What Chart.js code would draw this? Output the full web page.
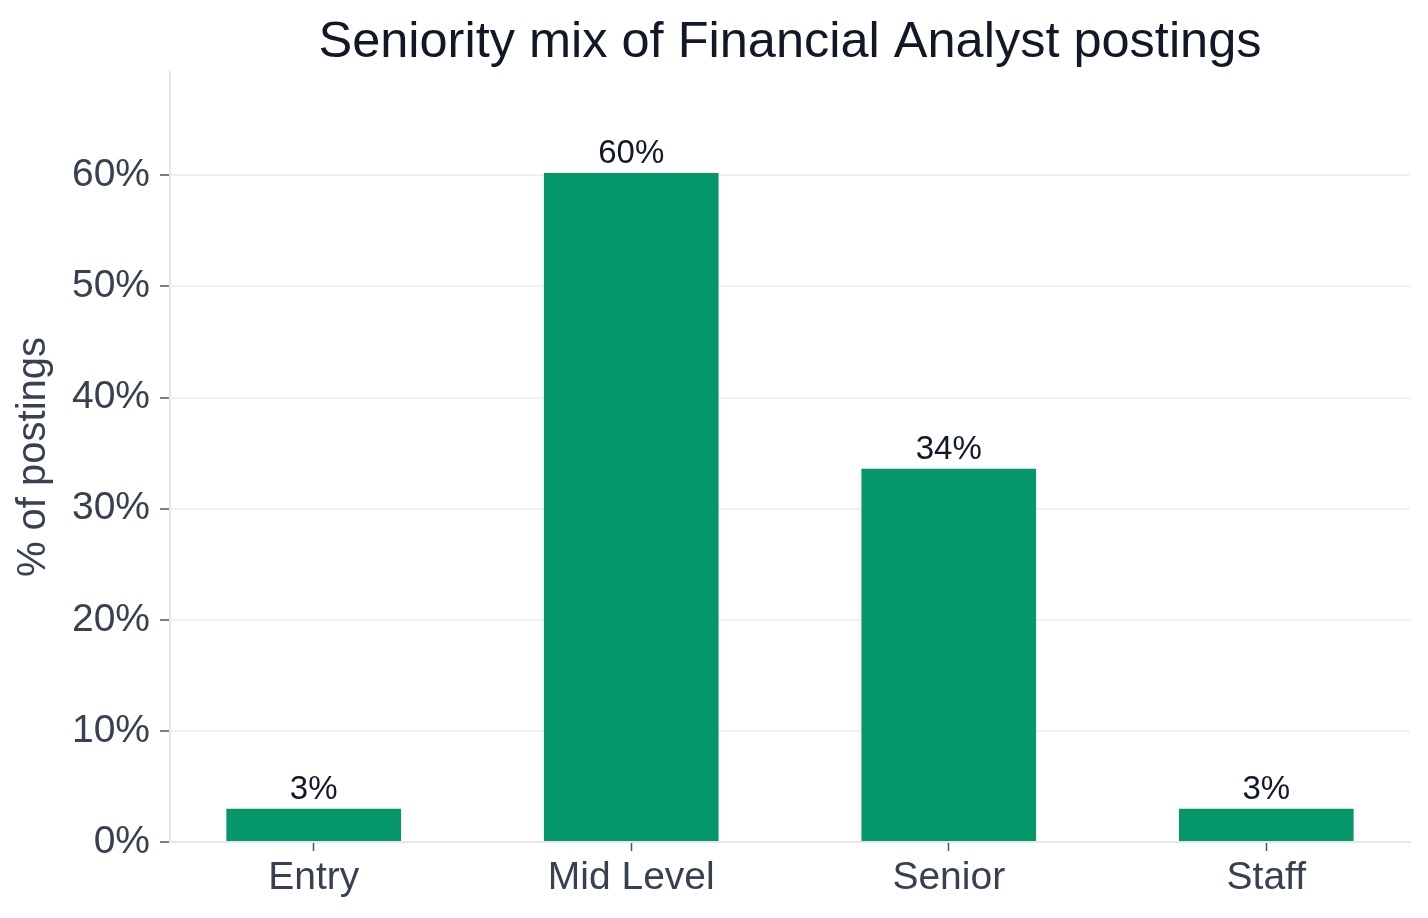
<!DOCTYPE html>
<html>
<head>
<meta charset="utf-8">
<script src="https://cdn.jsdelivr.net/npm/chart.js@4.4.1/dist/chart.umd.min.js"></script>
<style>
  html, body { margin: 0; padding: 0; background: #ffffff; overflow: hidden; }
  canvas { display: block; }
</style>
</head>
<body>
<canvas id="chart" width="1428" height="918"></canvas>
<script>
// data
const categories = ["Entry", "Mid Level", "Senior", "Staff"];
const shares = [3.0, 60.2, 33.6, 3.0];
const yTicks = [0, 10, 20, 30, 40, 50, 60];
const yMax = 69.3;

const titleText = "Seniority mix of Financial Analyst postings";
const fontFamily = "'Liberation Sans', Arial, Helvetica, sans-serif";

// title centred over the plot area, not the canvas
const plotTitle = {
  id: "plotTitle",
  afterDraw(chart) {
    const ctx = chart.ctx;
    const area = chart.chartArea;
    ctx.save();
    ctx.font = "50.5px " + fontFamily;
    ctx.fillStyle = "#111827";
    ctx.textAlign = "center";
    ctx.textBaseline = "alphabetic";
    ctx.fillText(titleText, (area.left + area.right) / 2, 57);
    ctx.restore();
  }
};

// percent labels above each bar
const barLabels = {
  id: "barLabels",
  afterDatasetsDraw(chart) {
    const ctx = chart.ctx;
    const meta = chart.getDatasetMeta(0);
    ctx.save();
    ctx.font = "33px " + fontFamily;
    ctx.fillStyle = "#111827";
    ctx.textAlign = "center";
    ctx.textBaseline = "alphabetic";
    meta.data.forEach(function(bar, i) {
      ctx.fillText(Math.round(shares[i]) + "%", bar.x, bar.y - 10);
    });
    ctx.restore();
  }
};

const ctx = document.getElementById("chart").getContext("2d");
new Chart(ctx, {
  type: "bar",
  data: {
    datasets: [{
      data: shares.map(function(v, i) { return { x: i, y: v }; }),
      backgroundColor: "#059669",
      borderWidth: 0,
      barPercentage: 0.55,
      categoryPercentage: 1.0
    }]
  },
  options: {
    responsive: false,
    animation: false,
    devicePixelRatio: 1,
    layout: { padding: { top: 72, right: 18, bottom: 0, left: 0 } },
    plugins: {
      legend: { display: false },
      tooltip: { enabled: false }
    },
    scales: {
      x: {
        type: "linear",
        offset: false,
        min: -0.4525,
        max: 3.4525,
        afterBuildTicks: function(scale) {
          scale.ticks = categories.map(function(c, i) { return { value: i }; });
        },
        afterFit: function(scale) { scale.height = 76; },
        border: { display: true, color: "#e5e7eb", width: 2 },
        grid: { offset: false, drawOnChartArea: false, drawTicks: true, tickLength: 9, tickColor: "#4b5563", tickWidth: 1.5 },
        ticks: {
          color: "#374151",
          font: { family: fontFamily, size: 39 },
          padding: 4,
          maxRotation: 0,
          autoSkip: false,
          callback: function(value) { return categories[value]; }
        }
      },
      y: {
        min: 0,
        max: yMax,
        afterBuildTicks: function(scale) {
          scale.ticks = yTicks.map(function(v) { return { value: v }; });
        },
        afterFit: function(scale) { scale.width = 170; },
        border: { display: true, color: "#e5e7eb", width: 2 },
        grid: { color: "#f0f1f3", lineWidth: 2, drawTicks: true, tickLength: 10, tickColor: "#4b5563", tickWidth: 1.5 },
        ticks: {
          color: "#374151",
          font: { family: fontFamily, size: 39 },
          padding: 10,
          callback: function(value) { return value + "%"; }
        },
        title: {
          display: true,
          text: "% of postings",
          color: "#374151",
          font: { family: fontFamily, size: 40 },
          padding: { top: 10, bottom: 0 }
        }
      }
    }
  },
  plugins: [plotTitle, barLabels]
});
</script>
</body>
</html>
